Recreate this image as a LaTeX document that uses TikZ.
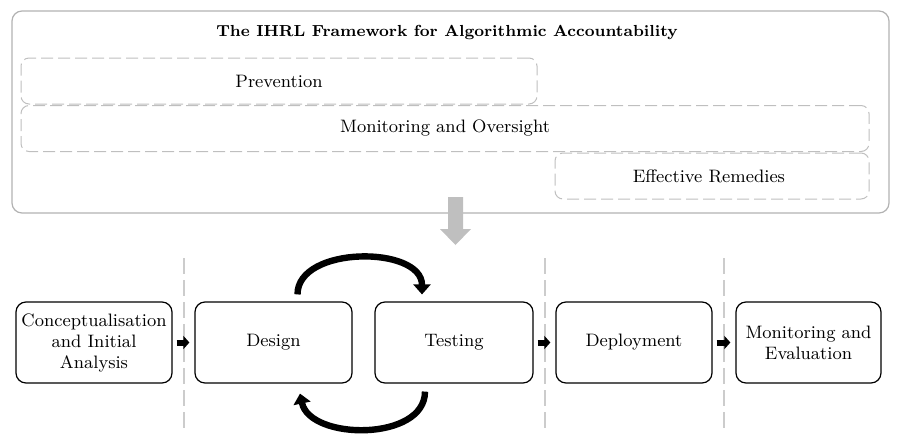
\documentclass[tikz,border=0pt]{standalone}
\usepackage{tikz}
\usetikzlibrary{arrows.meta}

\begin{document}
\begin{tikzpicture}[x=0.5pt,y=-0.5pt,
	every node/.style={font=\fontsize{9}{10.5}\selectfont, align=center, inner sep=0pt},
	stagebox/.style={draw, line width=0.6pt, rounded corners=5pt, minimum height=40.5pt},
	areabox/.style={draw=black!25, line width=0.5pt, dash pattern=on 6pt off 2.5pt, rounded corners=4pt, minimum height=23pt},
	steparrow/.style={-{Triangle[length=3pt,width=6.5pt]}, line width=3pt, shorten <=2pt, shorten >=2.5pt},
	looparrow/.style={-{Triangle[length=5pt,width=8.5pt]}, line width=3.2pt},
	phaseline/.style={draw=black!20, line width=1pt, dash pattern=on 8pt off 3pt}]
	\useasboundingbox (0,0) rectangle (902,446);
	\node[draw=black!30, line width=0.6pt, rounded corners=5pt, minimum width=438.5pt, minimum height=101pt] (frame) at (450.5,112) {};
	\node[font=\fontsize{8}{10}\selectfont\bfseries] (title) at (447,33) {The IHRL Framework for Algorithmic Accountability};
	\foreach \name/\cx/\cy/\w/\area in
	{
		prevention/279/81/258pt/Prevention,
		oversight/445/128.5/424pt/Monitoring and Oversight,
		remedies/712/176/157pt/Effective Remedies
	}
	{
		\node[areabox, minimum width=\w] (\name) at (\cx,\cy) {\area};
	}
	\fill[black!25] (448,197) -- (463,197) -- (463,229) -- (471,229) -- (455.5,245) -- (440,229) -- (448,229) -- cycle;
	\foreach \x in {183.5,544.5,724}
	{
		\draw[phaseline] (\x,258) -- (\x,432);
	}
	\foreach \name/\cx/\w/\stage in
	{
		concept/94/78pt/Conceptualisation\protect\\and Initial\protect\\Analysis,
		design/273.5/78.5pt/Design,
		testing/454/79pt/Testing,
		deployment/634/78pt/Deployment,
		evaluation/808.5/72.5pt/Monitoring and\protect\\Evaluation
	}
	{
		\node[stagebox, minimum width=\w] (\name) at (\cx,342.5) {\stage};
	}
	\foreach \a/\b in {concept/design, testing/deployment, deployment/evaluation}
	{
		\draw[steparrow] (\a) -- (\b);
	}
	\draw[looparrow] ([xshift=12pt,yshift=3.5pt]design.north) .. controls +(0,-49) and +(0,-49) .. ([xshift=-16pt,yshift=3.5pt]testing.north);
	\draw[looparrow] ([xshift=-14.5pt,yshift=-4pt]testing.south) .. controls +(0,50) and +(10,47) .. ([xshift=13.25pt,yshift=-5pt]design.south);
\end{tikzpicture}
\end{document}
